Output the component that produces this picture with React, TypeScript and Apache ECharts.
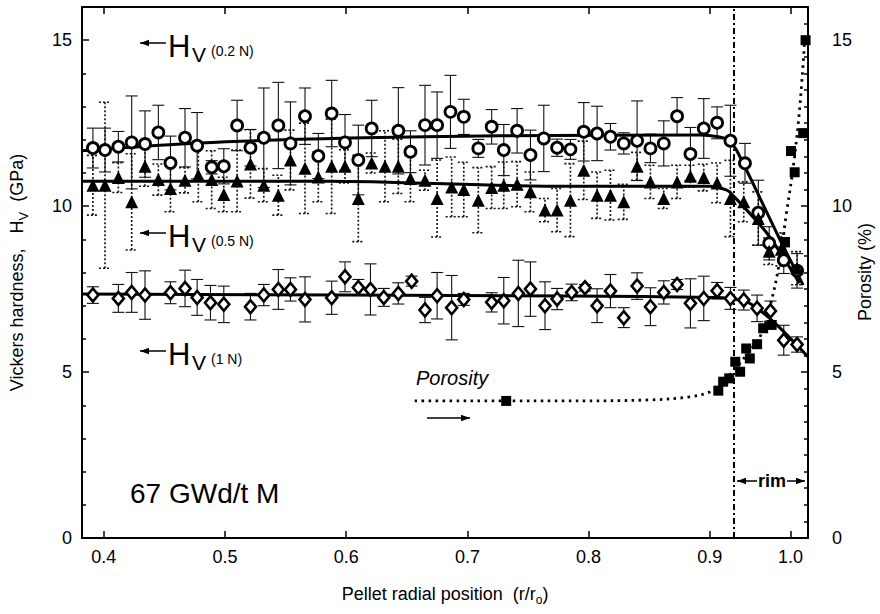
import React, { useEffect, useRef } from 'react';
import * as echarts from 'echarts';

const X_MIN = 0.382;
const X_MAX = 0.981;
const xLabelValues = [0.4, 0.5, 0.6, 0.7, 0.8, 0.9, 0.9665];
const yTickLabels = [0, 5, 10, 15];

// Hv (0.2 N) - open circles
const r02 = [0.391,0.401,0.412,0.423,0.434,0.445,0.455,0.467,0.477,0.489,0.499,0.510,0.521,0.532,0.544,0.554,0.566,0.577,0.588,0.599,0.610,0.621,0.643,0.653,0.665,0.675,0.686,0.697,0.709,0.720,0.730,0.741,0.752,0.763,0.774,0.785,0.796,0.807,0.818,0.829,0.840,0.851,0.862,0.873,0.884,0.895,0.906,0.917,0.929,0.940,0.949,0.961,0.972];
const hv02 = [11.75,11.69,11.79,11.92,11.87,12.22,11.30,12.06,11.82,11.17,11.20,12.43,11.76,12.06,12.43,11.89,12.71,11.51,12.79,11.92,11.39,12.34,12.27,11.64,12.44,12.44,12.84,12.69,11.74,12.39,11.69,12.27,11.54,12.04,11.76,11.71,12.24,12.19,12.09,11.89,11.97,11.74,11.89,12.71,11.57,12.34,12.51,11.97,11.29,9.80,8.88,8.37,8.05];
const err02 = [0.6,0.66,0.46,1.4,1.0,0.82,0.81,0.88,1.0,0.2,0.53,0.76,0.55,1.5,1.3,1.25,0.85,0.68,1.0,0.84,1.05,0.85,1.3,0.63,1.2,1.0,1.1,0.53,0.27,0.52,0.77,0.67,0.75,1.0,0.26,0.3,0.88,0.82,0.4,0.32,1.2,0.43,0.68,0.56,0.8,0.9,0.48,1.07,0.6,0.98,0.5,0.4,0.52];

// Hv (0.5 N) - filled triangles
const r05 = [0.391,0.401,0.412,0.423,0.434,0.445,0.455,0.467,0.478,0.489,0.499,0.510,0.521,0.532,0.544,0.554,0.566,0.577,0.588,0.599,0.610,0.621,0.632,0.643,0.653,0.665,0.675,0.687,0.697,0.709,0.720,0.730,0.741,0.752,0.764,0.774,0.785,0.796,0.807,0.818,0.829,0.840,0.851,0.862,0.873,0.884,0.895,0.906,0.917,0.928,0.940,0.949,0.959,0.972];
const hv05 = [10.63,10.63,10.86,10.13,11.20,10.80,10.53,10.78,10.93,10.80,10.35,10.76,11.27,10.63,10.33,11.39,11.14,10.88,11.20,11.20,10.23,11.30,11.20,11.20,10.83,10.78,10.23,10.58,10.50,10.18,10.56,10.63,10.66,10.43,9.88,9.88,10.18,11.08,10.33,10.33,10.13,11.20,10.73,10.23,10.73,10.90,10.86,10.70,10.23,10.13,9.63,8.64,8.70,8.13];
const err05 = [0.9,2.5,0.45,1.45,0.6,0.47,0.7,0.38,0.8,0.87,0.52,0.93,1.03,0.5,0.6,0.9,1.36,0.75,1.42,0.5,1.3,0.3,1.07,0.82,0.7,0.3,1.16,0.9,0.82,0.98,0.63,0.7,0.68,0.6,0.35,0.65,1.1,0.88,0.7,0.75,0.53,0.42,0.5,0.3,0.5,0.33,0.4,0.6,1.15,0.6,0.8,0.4,0.5,0.5];

// Hv (1 N) - open diamonds
const r1 = [0.391,0.412,0.423,0.434,0.455,0.467,0.477,0.488,0.499,0.521,0.532,0.544,0.554,0.566,0.588,0.599,0.610,0.620,0.631,0.643,0.654,0.665,0.675,0.687,0.697,0.720,0.730,0.742,0.752,0.764,0.774,0.786,0.797,0.807,0.818,0.829,0.840,0.851,0.862,0.873,0.884,0.895,0.906,0.917,0.928,0.939,0.950,0.961,0.972];
const hv1 = [7.32,7.22,7.40,7.32,7.39,7.52,7.25,7.09,7.04,6.97,7.32,7.49,7.49,7.19,7.24,7.87,7.55,7.49,7.25,7.37,7.74,6.87,7.30,6.94,7.19,7.10,7.15,7.37,7.50,7.00,7.20,7.40,7.54,7.00,7.44,6.64,7.59,6.97,7.40,7.64,7.07,7.22,7.45,7.22,7.17,6.92,6.84,5.96,5.83];
const err1 = [0.25,0.42,0.6,0.73,0.33,0.55,0.54,0.52,0.55,0.4,0.32,0.6,0.35,0.68,0.5,0.45,0.24,0.77,0.27,0.32,0.15,0.38,0.7,0.97,0.18,0.29,0.7,1.0,0.82,0.72,0.32,0.25,0.1,0.51,0.5,0.3,0.4,0.57,0.35,0.15,0.74,0.67,0.25,0.33,0.3,0.4,0.3,0.45,0.23];

// Porosity (%) - filled squares
const rPor = [0.732,0.907,0.911,0.916,0.921,0.925,0.930,0.933,0.939,0.944,0.951,0.962,0.967,0.970,0.977,0.979];
const por = [4.13,4.44,4.71,4.81,5.31,5.01,5.71,5.41,5.84,6.32,6.42,8.92,11.66,11.02,12.20,15.0];

// Fitted curves
const fit02R = [0.382,0.479,0.603,0.727,0.892,0.907,0.915,0.922,0.958,0.977];
const fit02V = [11.67,11.90,12.05,12.12,12.14,12.09,11.99,11.69,8.98,7.62];
const fit05R = [0.382,0.586,0.776,0.900,0.914,0.919,0.947,0.974];
const fit05V = [10.75,10.75,10.60,10.60,10.48,10.33,9.19,7.68];
const fit1R = [0.382,0.784,0.905,0.916,0.930,0.941,0.957,0.981];
const fit1V = [7.35,7.29,7.25,7.22,7.12,6.87,6.36,5.46];
const porFitR = [0.6565,0.776,0.850,0.883,0.900,0.909,0.920,0.932,0.942,0.950,0.957,0.963,0.969,0.974,0.978];
const porFitV = [4.13,4.13,4.16,4.25,4.40,4.64,5.06,5.60,6.11,7.02,8.22,9.73,11.23,12.89,14.85];

const rimStart = 0.919;

const FONT = '"Liberation Sans", Arial, Helvetica, sans-serif';

const errRender = (dashed: boolean) => (params: any, api: any) => {
  const x = api.value(0);
  const lo = api.value(1);
  const hi = api.value(2);
  const a = api.coord([x, lo]);
  const b = api.coord([x, hi]);
  const w = 6;
  const style: any = {
    stroke: '#111',
    lineWidth: dashed ? 1.6 : 1.1,
    lineDash: dashed ? [2, 2] : null,
    fill: null,
  };
  return {
    type: 'group',
    children: [
      { type: 'line', shape: { x1: a[0], y1: a[1], x2: b[0], y2: b[1] }, style },
      { type: 'line', shape: { x1: a[0] - w, y1: a[1], x2: a[0] + w, y2: a[1] }, style },
      { type: 'line', shape: { x1: b[0] - w, y1: b[1], x2: b[0] + w, y2: b[1] }, style },
    ],
  };
};

const pairs = (xs: number[], ys: number[]) => xs.map((x, i) => [x, ys[i]]);
const errData = (xs: number[], ys: number[], es: number[]) =>
  xs.map((x, i) => [x, ys[i] - es[i], ys[i] + es[i]]);

const arrow = (x1: number, x2: number, y: number) => {
  // head at x1
  const dir = x2 > x1 ? 1 : -1;
  return [
    { type: 'line', shape: { x1, y1: y, x2, y2: y }, style: { stroke: '#000', lineWidth: 1.5 } },
    {
      type: 'polygon',
      shape: { points: [[x1, y], [x1 + dir * 9, y - 3.2], [x1 + dir * 9, y + 3.2]] },
      style: { fill: '#000' },
    },
  ];
};

const hvLabel = (y: number, load: string) => [
  ...arrow(140, 166, y),
  { type: 'text', x: 168, y: y - 12, style: { text: 'H', font: `31px ${FONT}`, fill: '#000', textVerticalAlign: 'top' } },
  { type: 'text', x: 192, y: y + 1, style: { text: 'V', font: `21px ${FONT}`, fill: '#000', textVerticalAlign: 'top' } },
  { type: 'text', x: 211, y: y + 1, style: { text: load, font: `14px ${FONT}`, fill: '#000', textVerticalAlign: 'top' } },
];

export default function App() {
  const ref = useRef<HTMLDivElement>(null);
  useEffect(() => {
    if (!ref.current) return;
    const chart = echarts.init(ref.current, null, { renderer: 'svg' });
    const axisLine = { show: true, onZero: false, lineStyle: { color: '#000', width: 2 } };
    const tick = { show: true, inside: true, length: 7, lineStyle: { color: '#000', width: 1.5 } };
    const labelStyle = { fontSize: 18, color: '#000', fontFamily: FONT };
    const option: any = {
      animation: false,
      backgroundColor: '#fff',
      grid: { left: 82, right: 72, top: 7, bottom: 76, containLabel: false, outerBoundsMode: 'none' },
      xAxis: [
        {
          type: 'value',
          min: X_MIN,
          max: X_MAX,
          position: 'bottom',
          axisLine,
          axisTick: { ...tick, customValues: xLabelValues },
          minorTick: { show: false },
          axisLabel: {
            ...labelStyle,
            margin: 10,
            customValues: xLabelValues,
            formatter: (v: number) => (v > 0.95 ? '1.0' : v.toFixed(1)),
          },
          splitLine: { show: false },
          name: '{a|Pellet radial position  (r/r}{s|o}{a|)}',
          nameLocation: 'middle',
          nameGap: 44,
          nameTextStyle: {
            rich: {
              a: { fontSize: 18, fontFamily: FONT, color: '#000', lineHeight: 24, verticalAlign: 'middle' },
              s: { fontSize: 12, fontFamily: FONT, color: '#000', lineHeight: 24, verticalAlign: 'bottom' },
            },
          },
        },
        {
          type: 'value',
          min: X_MIN,
          max: X_MAX,
          position: 'top',
          axisLine,
          axisTick: { ...tick, customValues: xLabelValues },
          axisLabel: { show: false },
          splitLine: { show: false },
        },
      ],
      yAxis: [
        {
          type: 'value',
          min: 0,
          max: 16,
          interval: 5,
          position: 'left',
          axisLine,
          axisTick: tick,
          minorTick: { show: true, splitNumber: 5, length: 4, lineStyle: { color: '#000', width: 1.5 } },
          axisLabel: { ...labelStyle, margin: 10, customValues: yTickLabels },
          splitLine: { show: false },
          name: '{a|Vickers hardness,   H}{s|V}{a|  (GPa)}',
          nameLocation: 'middle',
          nameRotate: 90,
          nameGap: 52,
          nameTextStyle: {
            rich: {
              a: { fontSize: 18, fontFamily: FONT, color: '#000', lineHeight: 26, verticalAlign: 'middle' },
              s: { fontSize: 13, fontFamily: FONT, color: '#000', lineHeight: 26, verticalAlign: 'bottom' },
            },
          },
        },
        {
          type: 'value',
          min: 0,
          max: 16,
          interval: 5,
          position: 'right',
          axisLine,
          axisTick: tick,
          minorTick: { show: true, splitNumber: 10, length: 4, lineStyle: { color: '#000', width: 1.5 } },
          axisLabel: { ...labelStyle, margin: 24, customValues: yTickLabels },
          splitLine: { show: false },
        },
      ],
      series: [
        { type: 'custom', name: 'err02', renderItem: errRender(false), data: errData(r02, hv02, err02), encode: { x: 0, y: [1, 2] }, z: 2, clip: true },
        { type: 'custom', name: 'err05', renderItem: errRender(true), data: errData(r05, hv05, err05), encode: { x: 0, y: [1, 2] }, z: 2, clip: true },
        { type: 'custom', name: 'err1', renderItem: errRender(false), data: errData(r1, hv1, err1), encode: { x: 0, y: [1, 2] }, z: 2, clip: true },
        { type: 'line', name: 'fit02', data: pairs(fit02R, fit02V), showSymbol: false, smooth: 0.25, lineStyle: { color: '#000', width: 3 }, z: 3 },
        { type: 'line', name: 'fit05', data: pairs(fit05R, fit05V), showSymbol: false, smooth: 0.25, lineStyle: { color: '#000', width: 3 }, z: 3 },
        { type: 'line', name: 'fit1', data: pairs(fit1R, fit1V), showSymbol: false, smooth: 0.25, lineStyle: { color: '#000', width: 3 }, z: 3 },
        {
          type: 'scatter', name: 'Hv 0.2 N', data: pairs(r02, hv02), symbol: 'circle', symbolSize: 11,
          itemStyle: { color: '#fff', borderColor: '#000', borderWidth: 2.8, opacity: 1 }, z: 5,
        },
        {
          type: 'scatter', name: 'Hv 0.5 N', data: pairs(r05, hv05), symbol: 'triangle', symbolSize: 13,
          itemStyle: { color: '#000', opacity: 1 }, z: 5,
        },
        {
          type: 'scatter', name: 'Hv 1 N', data: pairs(r1, hv1), symbol: 'diamond', symbolSize: [11, 13],
          itemStyle: { color: '#fff', borderColor: '#000', borderWidth: 2.6, opacity: 1 }, z: 5,
        },
        {
          type: 'line', name: 'porFit', yAxisIndex: 1, data: pairs(porFitR, porFitV), showSymbol: false, smooth: 0.35,
          lineStyle: { color: '#000', width: 2.8, type: [2.5, 4.5] }, z: 3,
        },
        {
          type: 'scatter', name: 'Porosity', yAxisIndex: 1, data: pairs(rPor, por), symbol: 'rect', symbolSize: 10,
          itemStyle: { color: '#000', opacity: 1 }, z: 6,
          markLine: {
            silent: true,
            symbol: ['none', 'none'],
            label: { show: false },
            lineStyle: { color: '#000', width: 2, type: [6, 3, 2, 3] },
            data: [{ xAxis: rimStart }],
          },
        },
      ],
      graphic: [
        ...hvLabel(43, '(0.2 N)'),
        ...hvLabel(233, '(0.5 N)'),
        ...hvLabel(351, '(1 N)'),
        { type: 'text', x: 416, y: 368, style: { text: 'Porosity', font: `italic 20px ${FONT}`, fill: '#000' } },
        ...arrow(470, 427, 418),
        { type: 'text', x: 130, y: 479, style: { text: '67 GWd/t M', font: `28px ${FONT}`, fill: '#000' } },
        ...arrow(737, 757, 481),
        ...arrow(805, 787, 481),
        { type: 'text', x: 772, y: 481, style: { text: 'rim', font: `bold 18px ${FONT}`, fill: '#000', textAlign: 'center', textVerticalAlign: 'middle' } },
        {
          type: 'text', x: 865, y: 272, rotation: Math.PI / 2,
          style: { text: 'Porosity (%)', font: `18px ${FONT}`, fill: '#000', textAlign: 'center', textVerticalAlign: 'middle' },
        },
      ],
    };
    chart.setOption(option);
    return () => chart.dispose();
  }, []);
  return <div ref={ref} style={{ position: 'fixed', left: 0, top: 0, width: 880, height: 614 }} />;
}
